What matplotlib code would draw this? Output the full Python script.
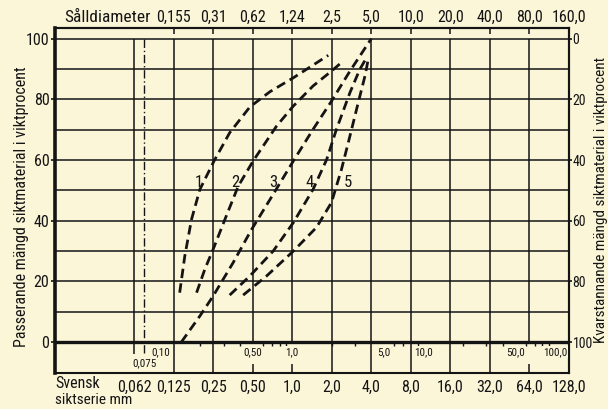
import matplotlib
matplotlib.use('Agg')
import matplotlib.pyplot as plt
from matplotlib import font_manager
from matplotlib.ticker import NullLocator

# ---------------- data ----------------
sieve_mm = [0.0625, 0.125, 0.25, 0.5, 1.0, 2.0, 4.0, 8.0, 16.0, 32.0, 64.0, 128.0]
sieve_labels = ['0,062', '0,125', '0,25', '0,50', '1,0', '2,0', '4,0', '8,0',
                '16,0', '32,0', '64,0', '128,0']
round_hole_labels = ['0,155', '0,31', '0,62', '1,24', '2,5', '5,0', '10,0',
                     '20,0', '40,0', '80,0', '160,0']
inner_values = [0.10, 0.50, 1.0, 5.0, 10.0, 50.0, 100.0]
inner_labels = ['0,10', '0,50', '1,0', '5,0', '10,0', '50,0', '100,0']
minor_values = [0.2, 0.3, 0.4, 0.6, 0.7, 0.8, 0.9, 2, 3, 6, 7, 9,
                20, 30, 40, 60, 70, 80, 90]
limit_mm = 0.075
pct_ticks = [0, 20, 40, 60, 80, 100]

curve1_mm = [0.139, 0.152, 0.171, 0.198, 0.254, 0.334, 0.476, 0.676, 1.02, 1.88]
curve1_pct = [16.3, 28.3, 40.4, 50.3, 59.7, 69.0, 77.5, 82.5, 87.1, 94.5]
curve2_mm = [0.187, 0.216, 0.25, 0.307, 0.388, 0.504, 0.76, 1.02, 1.44, 1.99, 2.41]
curve2_pct = [16.3, 24.0, 30.6, 40.4, 51.4, 59.7, 71.2, 77.8, 84.4, 89.3, 92.4]
curve3_mm = [0.143, 0.198, 0.25, 0.355, 0.49, 0.716, 1.02, 1.44, 1.99, 2.75, 4.0]
curve3_pct = [0.0, 8.6, 15.2, 26.2, 37.1, 48.7, 59.7, 70.1, 79.4, 89.3, 100.0]
curve4_mm = [0.334, 0.476, 0.716, 1.02, 1.44, 1.83, 2.17, 2.75, 3.27, 3.68]
curve4_pct = [15.5, 21.8, 30.0, 39.4, 50.3, 60.2, 70.1, 82.2, 89.9, 93.7]
curve5_mm = [0.423, 0.638, 1.02, 1.53, 1.99, 2.37, 2.75, 3.18, 3.58, 3.79]
curve5_pct = [15.5, 21.8, 30.0, 37.8, 46.0, 56.9, 67.9, 78.9, 87.7, 93.2]
curve_names = ['1', '2', '3', '4', '5']
name_mm = [0.196, 0.366, 0.712, 1.36, 2.67]
name_pct = [52.5, 52.5, 52.5, 52.5, 52.5]

# ---------------- style ----------------
names = {f.name for f in font_manager.fontManager.ttflist}
FONT = 'DejaVu Sans'
for cand in ['Liberation Sans Narrow', 'Roboto Condensed', 'Open Sans Condensed']:
    if cand in names:
        FONT = cand
        break
plt.rcParams['font.family'] = [FONT, 'DejaVu Sans']
if FONT == 'DejaVu Sans':
    plt.rcParams['font.stretch'] = 'condensed'

BG = '#fcf6d9'
INK = '#141414'
W, H = 608, 409

fig = plt.figure(figsize=(W / 100, H / 100), dpi=100, facecolor=BG)
ax = fig.add_axes([55 / W, 1 - 372.5 / H, 514 / W, 344.8 / H])
ax.set_facecolor(BG)
ax.set_xscale('log', base=2)
ax.set_xlim(2 ** -6, 2 ** 7)
ax.set_ylim(-10, 103.6)

for s in ax.spines.values():
    s.set_color(INK)
    s.set_linewidth(1.5)
ax.spines['left'].set_linewidth(2.6)

# horizontal grid
ax.hlines(list(range(10, 101, 10)), 2 ** -6, 2 ** 7, color=INK, lw=1.1, zorder=1)
ax.hlines([0], 2 ** -6, 2 ** 7, color=INK, lw=2.4, zorder=3)

# vertical grid
full = [sieve_mm[i] for i in (1, 2, 5, 6, 7, 8, 9)]
broken = [sieve_mm[i] for i in (3, 4, 10)]
ax.vlines(full, -10, 100, color=INK, lw=1.1, zorder=1)
ax.vlines(broken, 0, 100, color=INK, lw=1.1, zorder=1)
ax.vlines(broken, -10, -7.3, color=INK, lw=1.1, zorder=1)
ax.vlines([sieve_mm[0]], -3.8, 100, color=INK, lw=1.1, zorder=1)
ax.vlines([limit_mm], -3.5, 100, color=INK, lw=1.0, linestyles=[(0, (6, 2, 1, 2))], zorder=1)
ax.vlines(minor_values, -1.4, 0, color=INK, lw=1.0, zorder=3)

# curves
dash = (0, (3.4, 1.9))
for xs, ys in [(curve1_mm, curve1_pct), (curve2_mm, curve2_pct), (curve3_mm, curve3_pct),
               (curve4_mm, curve4_pct), (curve5_mm, curve5_pct)]:
    ax.plot(xs, ys, color=INK, lw=2.0, linestyle=dash, dash_capstyle='butt',
            solid_joinstyle='round', zorder=4)
for n, xm, yp in zip(curve_names, name_mm, name_pct):
    ax.text(xm, yp, n, ha='center', va='center', fontsize=12, color=INK, zorder=5)

# inner (decimal) scale labels
for v, lab in zip(inner_values, inner_labels):
    ax.text(v, -3.3, lab, ha='center', va='center', fontsize=8, color=INK, zorder=5,
            bbox=dict(fc=BG, ec='none', pad=0.6))
ax.text(limit_mm, -6.9, '0,075', ha='center', va='center', fontsize=8, color=INK, zorder=5,
        bbox=dict(fc=BG, ec='none', pad=0.4))

# bottom axis
ax.set_xticks(sieve_mm, sieve_labels)
ax.xaxis.set_minor_locator(NullLocator())
ax.tick_params(axis='x', length=0, pad=5, labelsize=11.5, colors=INK)

# left axis
ax.set_yticks(pct_ticks, [str(p) for p in pct_ticks])
ax.tick_params(axis='y', direction='out', length=3, width=1.2, pad=1, labelsize=11.5, colors=INK)

# top axis
secx = ax.secondary_xaxis('top')
secx.set_xticks(sieve_mm[1:], round_hole_labels)
secx.xaxis.set_minor_locator(NullLocator())
secx.tick_params(axis='x', direction='in', length=4, width=1.1, pad=2, labelsize=11.5, colors=INK)
secx.spines['top'].set_linewidth(1.5)

# right axis
secy = ax.secondary_yaxis('right', functions=(lambda y: 100 - y, lambda y: 100 - y))
secy.set_yticks(pct_ticks, [str(p) for p in pct_ticks])
secy.tick_params(axis='y', direction='out', length=2, width=1.2, pad=0.5, labelsize=10, colors=INK)
secy.spines['right'].set_linewidth(1.5)

# texts
fig.text(64 / W, 1 - 18 / H, 'Sålldiameter', ha='left', va='center', fontsize=12.5, color=INK)
fig.text(55 / W, 1 - 384 / H, 'Svensk', ha='left', va='center', fontsize=11.5, color=INK)
fig.text(55 / W, 1 - 399.5 / H, 'siktserie mm', ha='left', va='center', fontsize=11, color=INK)
fig.text(22 / W, 1 - 207 / H, 'Passerande mängd siktmaterial i viktprocent', rotation=90,
         ha='center', va='center', fontsize=11.5, color=INK)
fig.text(601 / W, 1 - 200 / H, 'Kvarstannande mängd siktmaterial i viktprocent', rotation=90,
         ha='center', va='center', fontsize=11, color=INK)

fig.savefig('out.png', dpi=100, facecolor=BG)
